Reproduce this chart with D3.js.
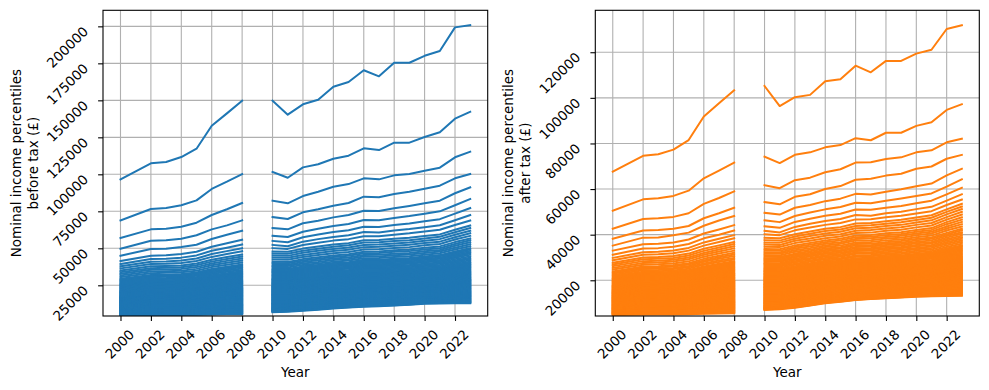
<!DOCTYPE html>
<html><head><meta charset="utf-8">
<script src="https://cdn.jsdelivr.net/npm/d3@7"></script>
<style>
body{margin:0;background:#fff}
svg{display:block}
text{font-family:"DejaVu Sans",sans-serif;fill:#000}
</style>
</head><body>
<svg id="chart" width="989" height="390"></svg>
<script>
// Tax years (labelled by year); 2009 has no data (gap in the lines)
const years = [2000,2002,2003,2004,2005,2006,2007,2008,2009,2010,2011,2012,2013,2014,2015,2016,2017,2018,2019,2020,2021,2022,2023];
const xTicks = [2000,2002,2004,2006,2008,2010,2012,2014,2016,2018,2020,2022];
const beforeTaxTicks = [25000,50000,75000,100000,125000,150000,175000,200000];
const afterTaxTicks = [20000,40000,60000,80000,100000,120000];
const percentiles = d3.range(1, 100);

// Percentile points 1..99 (thousands of £), one row per year; null = no data
const beforeTax = [
[4.73,4.9,5.1,5.3,5.5,5.7,5.8,6.0,6.2,6.4,6.6,6.8,7.0,7.2,7.4,7.6,7.8,8.1,8.3,8.5,8.7,8.9,9.1,9.3,9.5,9.7,10.0,10.2,10.4,10.7,10.9,11.2,11.4,11.6,11.9,12.1,12.3,12.6,12.8,13.0,13.3,13.5,13.7,14.0,14.2,14.4,14.7,14.9,15.2,15.4,15.7,15.9,16.2,16.4,16.7,17.0,17.2,17.5,17.7,18.0,18.3,18.7,19.0,19.3,19.7,20.0,20.3,20.6,21.0,21.3,21.8,22.3,22.7,23.2,23.7,24.2,24.7,25.1,25.6,26.1,26.8,27.5,28.1,28.8,29.5,30.6,31.7,32.8,33.9,35.0,36.4,37.8,39.4,41.4,45.0,49.7,57.0,68.9,96.6],
[4.9,5.1,5.3,5.5,5.7,5.9,6.2,6.4,6.6,6.8,7.0,7.3,7.5,7.7,7.9,8.2,8.4,8.6,8.8,9.1,9.3,9.5,9.8,10.0,10.2,10.5,10.7,11.0,11.2,11.5,11.8,12.0,12.3,12.5,12.8,13.1,13.3,13.6,13.8,14.1,14.4,14.6,14.9,15.1,15.4,15.7,15.9,16.2,16.4,16.7,17.0,17.3,17.5,17.8,18.1,18.4,18.7,18.9,19.2,19.5,19.9,20.2,20.6,20.9,21.3,21.7,22.0,22.4,22.7,23.1,23.6,24.1,24.7,25.2,25.7,26.2,26.7,27.3,27.8,28.3,29.0,29.8,30.5,31.3,32.0,33.2,34.3,35.5,36.6,37.8,39.4,40.9,42.8,45.0,49.5,55.1,62.8,76.6,107.4],
[5.0,5.2,5.4,5.6,5.8,6.1,6.3,6.5,6.7,6.9,7.1,7.4,7.6,7.8,8.0,8.3,8.5,8.7,8.9,9.2,9.4,9.6,9.9,10.1,10.3,10.6,10.8,11.1,11.3,11.6,11.9,12.1,12.4,12.6,12.9,13.2,13.4,13.7,13.9,14.2,14.5,14.7,15.0,15.2,15.5,15.8,16.0,16.3,16.5,16.8,17.1,17.4,17.6,17.9,18.2,18.5,18.8,19.0,19.3,19.6,20.0,20.3,20.7,21.1,21.5,21.8,22.2,22.6,22.9,23.3,23.8,24.3,24.8,25.3,25.9,26.4,26.9,27.4,27.9,28.4,29.2,29.9,30.7,31.4,32.2,33.4,34.5,35.7,36.8,38.0,39.6,41.1,43.0,45.3,49.7,55.4,63.2,77.2,108.3],
[5.0,5.2,5.4,5.6,5.8,6.1,6.3,6.5,6.7,6.9,7.1,7.4,7.6,7.8,8.1,8.3,8.5,8.8,9.0,9.2,9.5,9.7,9.9,10.2,10.4,10.7,10.9,11.2,11.5,11.7,12.0,12.2,12.5,12.8,13.0,13.3,13.6,13.8,14.1,14.4,14.6,14.9,15.2,15.4,15.7,15.9,16.2,16.5,16.7,17.0,17.3,17.6,17.9,18.2,18.5,18.7,19.0,19.3,19.6,19.9,20.3,20.6,21.0,21.3,21.7,22.1,22.4,22.8,23.1,23.5,24.0,24.6,25.1,25.6,26.2,26.7,27.2,27.7,28.3,28.8,29.6,30.3,31.1,31.8,32.6,33.8,34.9,36.1,37.2,38.4,40.1,41.8,43.7,46.1,50.9,56.5,64.6,79.1,111.7],
[5.1,5.3,5.5,5.8,6.0,6.2,6.4,6.7,6.9,7.1,7.3,7.6,7.8,8.1,8.3,8.5,8.8,9.0,9.3,9.5,9.7,10.0,10.2,10.5,10.7,11.0,11.3,11.5,11.8,12.1,12.4,12.6,12.9,13.2,13.5,13.7,14.0,14.3,14.6,14.8,15.1,15.4,15.7,15.9,16.2,16.5,16.8,17.0,17.3,17.6,17.9,18.2,18.5,18.8,19.1,19.4,19.7,20.0,20.3,20.6,21.0,21.4,21.7,22.1,22.5,22.9,23.3,23.6,24.0,24.4,24.9,25.5,26.0,26.6,27.1,27.6,28.2,28.7,29.3,29.8,30.6,31.4,32.1,32.9,33.7,34.9,36.1,37.3,38.5,39.7,41.4,43.1,45.2,47.7,52.4,58.8,67.3,82.4,117.3],
[5.3,5.5,5.8,6.0,6.3,6.5,6.8,7.0,7.3,7.5,7.8,8.0,8.3,8.5,8.8,9.1,9.3,9.6,9.8,10.1,10.4,10.6,10.9,11.1,11.4,11.7,12.0,12.3,12.6,12.9,13.2,13.5,13.8,14.1,14.4,14.7,15.0,15.2,15.5,15.8,16.1,16.4,16.7,17.0,17.3,17.6,17.9,18.2,18.5,18.8,19.1,19.4,19.8,20.1,20.4,20.7,21.0,21.4,21.7,22.0,22.4,22.8,23.2,23.6,24.0,24.4,24.8,25.2,25.6,26.0,26.6,27.2,27.7,28.3,28.9,29.5,30.1,30.6,31.2,31.8,32.6,33.5,34.3,35.2,36.0,37.3,38.5,39.8,41.0,42.3,44.2,46.1,48.3,51.1,56.3,62.8,72.5,90.1,132.8],
[5.4,5.7,5.9,6.2,6.4,6.7,6.9,7.2,7.4,7.7,8.0,8.2,8.5,8.8,9.1,9.3,9.6,9.9,10.2,10.4,10.7,11.0,11.3,11.5,11.8,12.1,12.4,12.7,13.0,13.4,13.7,14.0,14.3,14.6,14.9,15.2,15.5,15.9,16.2,16.5,16.8,17.1,17.4,17.7,18.0,18.4,18.7,19.0,19.3,19.6,19.9,20.3,20.6,20.9,21.3,21.6,21.9,22.2,22.6,22.9,23.3,23.7,24.2,24.6,25.0,25.4,25.8,26.3,26.7,27.1,27.7,28.3,28.9,29.5,30.2,30.8,31.4,32.0,32.6,33.2,34.1,35.0,35.8,36.7,37.6,38.9,40.2,41.5,42.8,44.1,46.1,48.1,50.4,53.4,59.2,65.5,76.4,95.0,141.2],
[5.5,5.8,6.0,6.3,6.6,6.8,7.1,7.4,7.6,7.9,8.2,8.5,8.8,9.0,9.3,9.6,9.9,10.2,10.5,10.8,11.1,11.3,11.6,11.9,12.2,12.5,12.9,13.2,13.5,13.8,14.2,14.5,14.8,15.2,15.5,15.8,16.1,16.5,16.8,17.1,17.5,17.8,18.1,18.4,18.8,19.1,19.4,19.7,20.1,20.4,20.7,21.1,21.4,21.8,22.1,22.4,22.8,23.1,23.5,23.8,24.3,24.7,25.2,25.6,26.1,26.5,27.0,27.4,27.9,28.3,28.9,29.5,30.2,30.8,31.4,32.0,32.6,33.3,33.9,34.5,35.4,36.3,37.3,38.2,39.1,40.4,41.8,43.1,44.5,45.8,48.0,50.1,52.6,55.8,61.9,68.9,80.6,100.2,149.7],
null,
[6.8,7.1,7.3,7.6,7.8,8.1,8.3,8.6,8.8,9.1,9.4,9.7,9.9,10.2,10.5,10.8,11.1,11.4,11.7,12.0,12.3,12.5,12.8,13.1,13.4,13.7,14.0,14.4,14.7,15.0,15.3,15.6,16.0,16.3,16.6,16.9,17.2,17.6,17.9,18.2,18.5,18.8,19.2,19.5,19.8,20.1,20.4,20.8,21.1,21.4,21.8,22.1,22.5,22.8,23.2,23.6,23.9,24.3,24.6,25.0,25.5,25.9,26.4,26.8,27.3,27.8,28.2,28.7,29.1,29.6,30.3,30.9,31.6,32.2,32.9,33.6,34.2,34.9,35.5,36.2,37.2,38.1,39.1,40.0,41.0,42.4,43.8,45.1,46.5,47.9,50.1,52.3,55.0,58.5,63.7,71.1,82.2,101.6,149.7],
[7.1,7.4,7.6,7.9,8.1,8.4,8.6,8.9,9.1,9.4,9.7,9.9,10.2,10.5,10.8,11.0,11.3,11.6,11.9,12.1,12.4,12.7,13.0,13.2,13.5,13.8,14.1,14.4,14.7,15.1,15.4,15.7,16.0,16.3,16.6,16.9,17.2,17.6,17.9,18.2,18.5,18.8,19.1,19.4,19.7,20.1,20.4,20.7,21.0,21.3,21.7,22.0,22.4,22.7,23.1,23.5,23.8,24.2,24.5,24.9,25.4,25.8,26.3,26.7,27.2,27.7,28.1,28.6,29.0,29.5,30.2,30.8,31.5,32.1,32.8,33.5,34.1,34.8,35.4,36.1,37.0,38.0,38.9,39.9,40.8,42.2,43.6,44.9,46.3,47.7,49.6,51.4,54.1,57.6,62.8,69.8,80.4,97.7,140.3],
[7.8,8.1,8.3,8.6,8.8,9.1,9.3,9.6,9.8,10.1,10.4,10.7,10.9,11.2,11.5,11.8,12.1,12.3,12.6,12.9,13.2,13.5,13.7,14.0,14.3,14.6,14.9,15.3,15.6,15.9,16.2,16.5,16.9,17.2,17.5,17.8,18.1,18.5,18.8,19.1,19.4,19.7,20.1,20.4,20.7,21.0,21.3,21.7,22.0,22.3,22.7,23.1,23.4,23.8,24.2,24.6,25.0,25.3,25.7,26.1,26.6,27.1,27.5,28.0,28.5,29.0,29.5,29.9,30.4,30.9,31.6,32.3,33.0,33.7,34.4,35.0,35.7,36.4,37.1,37.8,38.8,39.8,40.7,41.7,42.7,44.1,45.5,47.0,48.4,49.8,52.2,54.5,57.5,61.2,66.9,74.3,85.3,104.7,147.3],
[8.5,8.8,9.0,9.3,9.5,9.8,10.0,10.3,10.5,10.8,11.1,11.4,11.6,11.9,12.2,12.5,12.8,13.0,13.3,13.6,13.9,14.2,14.4,14.7,15.0,15.3,15.6,15.9,16.3,16.6,16.9,17.2,17.5,17.8,18.2,18.5,18.8,19.1,19.4,19.7,20.1,20.4,20.7,21.0,21.3,21.6,22.0,22.3,22.6,22.9,23.3,23.7,24.1,24.5,24.9,25.2,25.6,26.0,26.4,26.8,27.3,27.8,28.3,28.8,29.3,29.7,30.2,30.7,31.2,31.7,32.4,33.1,33.8,34.5,35.3,36.0,36.7,37.4,38.1,38.8,39.8,40.8,41.9,42.9,43.9,45.4,46.8,48.3,49.7,51.2,53.7,56.2,59.3,63.2,68.6,76.4,88.2,106.8,150.4],
[9.4,9.7,9.9,10.2,10.4,10.7,10.9,11.2,11.4,11.7,12.0,12.2,12.5,12.8,13.1,13.3,13.6,13.9,14.2,14.4,14.7,15.0,15.3,15.5,15.8,16.1,16.4,16.7,17.0,17.4,17.7,18.0,18.3,18.6,18.9,19.2,19.5,19.9,20.2,20.5,20.8,21.1,21.4,21.7,22.0,22.4,22.7,23.0,23.3,23.6,24.0,24.4,24.8,25.2,25.6,26.0,26.4,26.8,27.2,27.6,28.1,28.6,29.1,29.6,30.2,30.7,31.2,31.7,32.2,32.7,33.4,34.2,34.9,35.6,36.4,37.1,37.8,38.5,39.3,40.0,41.0,42.1,43.1,44.2,45.2,46.7,48.2,49.6,51.1,52.6,55.2,57.7,61.0,65.1,70.9,78.8,91.6,110.5,159.2],
[10.0,10.2,10.5,10.7,11.0,11.2,11.5,11.7,12.0,12.2,12.5,12.7,13.0,13.3,13.6,13.8,14.1,14.4,14.7,14.9,15.2,15.5,15.8,16.0,16.3,16.6,16.9,17.2,17.5,17.8,18.1,18.5,18.8,19.1,19.4,19.7,20.0,20.3,20.6,20.9,21.2,21.5,21.8,22.2,22.5,22.8,23.1,23.4,23.7,24.0,24.4,24.8,25.2,25.6,26.1,26.5,26.9,27.3,27.7,28.1,28.6,29.1,29.6,30.1,30.7,31.2,31.7,32.2,32.7,33.2,33.9,34.7,35.4,36.2,36.9,37.6,38.4,39.1,39.9,40.6,41.7,42.8,43.8,44.9,46.0,47.5,49.0,50.5,52.0,53.5,56.2,58.8,62.2,66.4,72.5,80.6,93.4,112.6,162.4],
[10.5,10.8,11.0,11.3,11.5,11.8,12.0,12.3,12.5,12.8,13.1,13.4,13.6,13.9,14.2,14.5,14.8,15.0,15.3,15.6,15.9,16.2,16.4,16.7,17.0,17.3,17.6,17.9,18.3,18.6,18.9,19.2,19.5,19.8,20.2,20.5,20.8,21.1,21.4,21.7,22.1,22.4,22.7,23.0,23.3,23.6,24.0,24.3,24.6,24.9,25.3,25.7,26.2,26.6,27.0,27.4,27.8,28.3,28.7,29.1,29.6,30.2,30.7,31.3,31.8,32.3,32.9,33.4,34.0,34.5,35.3,36.0,36.8,37.6,38.4,39.1,39.9,40.7,41.4,42.2,43.3,44.4,45.5,46.6,47.7,49.2,50.8,52.3,53.9,55.4,58.2,61.0,64.6,69.1,75.4,84.9,97.3,117.6,170.3],
[10.9,11.2,11.4,11.7,11.9,12.2,12.4,12.7,12.9,13.2,13.5,13.7,14.0,14.3,14.5,14.8,15.1,15.3,15.6,15.9,16.1,16.4,16.7,16.9,17.2,17.5,17.8,18.1,18.4,18.8,19.1,19.4,19.7,20.0,20.3,20.6,20.9,21.3,21.6,21.9,22.2,22.5,22.8,23.1,23.4,23.8,24.1,24.4,24.7,25.0,25.4,25.8,26.3,26.7,27.1,27.5,27.9,28.4,28.8,29.2,29.7,30.3,30.8,31.4,31.9,32.4,33.0,33.5,34.1,34.6,35.4,36.1,36.9,37.7,38.5,39.2,40.0,40.8,41.5,42.3,43.4,44.5,45.7,46.8,47.9,49.4,51.0,52.5,54.1,55.6,58.2,60.7,64.4,68.9,75.2,84.5,96.6,116.4,166.2],
[11.3,11.6,11.8,12.1,12.3,12.6,12.8,13.1,13.3,13.6,13.9,14.1,14.4,14.7,14.9,15.2,15.5,15.7,16.0,16.3,16.5,16.8,17.1,17.3,17.6,17.9,18.2,18.5,18.8,19.2,19.5,19.8,20.1,20.4,20.7,21.0,21.3,21.7,22.0,22.3,22.6,22.9,23.2,23.5,23.8,24.2,24.5,24.8,25.1,25.4,25.8,26.3,26.7,27.1,27.6,28.0,28.4,28.8,29.3,29.7,30.3,30.8,31.4,31.9,32.5,33.0,33.6,34.1,34.7,35.2,36.0,36.8,37.5,38.3,39.1,39.9,40.7,41.4,42.2,43.0,44.1,45.3,46.4,47.6,48.7,50.2,51.8,53.3,54.9,56.4,59.2,62.0,65.7,70.5,77.0,86.7,99.3,121.4,175.4],
[11.8,12.0,12.3,12.5,12.8,13.0,13.3,13.5,13.8,14.0,14.3,14.5,14.8,15.1,15.4,15.6,15.9,16.2,16.5,16.7,17.0,17.3,17.6,17.8,18.1,18.4,18.7,19.0,19.3,19.6,19.9,20.2,20.5,20.8,21.1,21.4,21.7,22.1,22.4,22.7,23.0,23.3,23.6,23.9,24.2,24.5,24.8,25.1,25.4,25.7,26.1,26.6,27.0,27.4,27.9,28.3,28.7,29.1,29.6,30.0,30.6,31.1,31.7,32.2,32.8,33.4,33.9,34.5,35.0,35.6,36.4,37.2,38.0,38.8,39.6,40.3,41.1,41.9,42.7,43.5,44.6,45.8,46.9,48.1,49.2,50.8,52.4,53.9,55.5,57.1,60.1,63.0,66.8,71.8,78.6,88.2,100.2,121.4,175.4],
[12.6,12.8,13.1,13.3,13.6,13.8,14.1,14.3,14.6,14.8,15.1,15.3,15.6,15.9,16.1,16.4,16.7,16.9,17.2,17.5,17.7,18.0,18.3,18.5,18.8,19.1,19.4,19.7,20.0,20.3,20.6,20.9,21.2,21.5,21.8,22.1,22.4,22.7,23.0,23.3,23.6,23.9,24.2,24.5,24.8,25.1,25.4,25.7,26.0,26.3,26.7,27.2,27.6,28.1,28.5,28.9,29.4,29.8,30.3,30.7,31.3,31.8,32.4,33.0,33.6,34.1,34.7,35.3,35.8,36.4,37.2,38.0,38.8,39.6,40.5,41.3,42.1,42.9,43.7,44.5,45.7,46.9,48.0,49.2,50.4,52.0,53.6,55.1,56.7,58.3,61.3,64.3,68.3,73.4,80.4,90.3,102.4,125.2,180.1],
[12.7,13.0,13.2,13.5,13.7,14.0,14.2,14.5,14.7,15.0,15.3,15.5,15.8,16.1,16.3,16.6,16.9,17.1,17.4,17.7,17.9,18.2,18.5,18.7,19.0,19.3,19.6,19.9,20.2,20.6,20.9,21.2,21.5,21.8,22.1,22.4,22.7,23.1,23.4,23.7,24.0,24.3,24.6,24.9,25.2,25.6,25.9,26.2,26.5,26.8,27.3,27.7,28.2,28.6,29.1,29.5,30.0,30.4,30.9,31.3,31.9,32.5,33.0,33.6,34.2,34.8,35.4,35.9,36.5,37.1,37.9,38.8,39.6,40.4,41.3,42.1,42.9,43.7,44.6,45.4,46.6,47.8,48.9,50.1,51.3,52.9,54.5,56.2,57.8,59.4,62.5,65.6,69.7,75.0,82.2,92.3,104.5,128.4,183.3],
[12.8,13.1,13.4,13.6,13.9,14.2,14.5,14.7,15.0,15.3,15.6,15.9,16.2,16.5,16.8,17.1,17.4,17.7,18.0,18.3,18.6,18.9,19.2,19.5,19.8,20.1,20.5,20.8,21.2,21.5,21.8,22.2,22.5,22.9,23.2,23.5,23.9,24.2,24.6,24.9,25.2,25.6,25.9,26.3,26.6,26.9,27.3,27.6,28.0,28.3,28.8,29.3,29.7,30.2,30.7,31.2,31.7,32.1,32.6,33.1,33.7,34.3,34.9,35.5,36.2,36.8,37.4,38.0,38.6,39.2,40.1,40.9,41.8,42.7,43.6,44.4,45.3,46.2,47.0,47.9,49.2,50.4,51.7,52.9,54.2,55.9,57.5,59.2,60.8,62.5,65.8,69.0,73.4,79.1,87.2,97.3,111.5,137.6,199.3],
[12.8,13.1,13.4,13.7,14.0,14.3,14.6,14.9,15.2,15.5,15.8,16.2,16.5,16.8,17.1,17.5,17.8,18.1,18.4,18.8,19.1,19.4,19.7,20.1,20.4,20.8,21.1,21.5,21.9,22.2,22.6,23.0,23.3,23.7,24.1,24.4,24.8,25.2,25.6,25.9,26.3,26.7,27.0,27.4,27.8,28.1,28.5,28.9,29.2,29.6,30.1,30.6,31.1,31.6,32.1,32.6,33.1,33.6,34.1,34.6,35.2,35.9,36.5,37.2,37.8,38.4,39.1,39.7,40.4,41.0,41.9,42.8,43.7,44.6,45.6,46.5,47.4,48.3,49.2,50.1,51.4,52.7,54.1,55.4,56.7,58.4,60.2,61.9,63.7,65.4,68.8,72.5,77.2,83.3,91.2,100.2,115.3,142.3,200.8]
];

const afterTax = [
[4.82,5.0,5.1,5.3,5.4,5.5,5.7,5.8,6.0,6.1,6.3,6.4,6.6,6.8,6.9,7.1,7.2,7.4,7.6,7.7,7.9,8.0,8.2,8.4,8.5,8.7,8.9,9.1,9.2,9.4,9.6,9.8,10.0,10.2,10.3,10.5,10.7,10.9,11.1,11.2,11.4,11.6,11.8,12.0,12.2,12.3,12.5,12.7,12.9,13.1,13.3,13.5,13.7,13.9,14.1,14.3,14.5,14.7,14.9,15.1,15.3,15.6,15.8,16.1,16.3,16.6,16.9,17.1,17.4,17.6,18.0,18.3,18.7,19.1,19.4,19.8,20.2,20.6,20.9,21.3,21.8,22.3,22.9,23.4,23.9,24.7,25.4,26.2,26.9,27.7,28.8,29.8,31.2,33.0,35.2,38.2,42.6,50.5,67.6],
[4.95,5.1,5.3,5.5,5.6,5.8,6.0,6.2,6.3,6.5,6.7,6.9,7.0,7.2,7.4,7.6,7.8,7.9,8.1,8.3,8.5,8.6,8.8,9.0,9.2,9.4,9.6,9.8,10.0,10.2,10.4,10.6,10.8,11.0,11.2,11.4,11.6,11.8,12.0,12.2,12.4,12.6,12.8,13.0,13.2,13.4,13.6,13.8,14.0,14.3,14.5,14.7,14.9,15.1,15.3,15.6,15.8,16.0,16.2,16.4,16.7,17.0,17.3,17.6,17.8,18.1,18.4,18.7,19.0,19.2,19.6,20.1,20.5,20.9,21.3,21.7,22.1,22.5,22.9,23.3,23.8,24.4,24.9,25.5,26.0,26.8,27.6,28.4,29.2,30.0,31.2,32.3,33.9,35.8,38.7,41.8,46.9,55.5,74.6],
[5.0,5.2,5.4,5.5,5.7,5.9,6.1,6.3,6.4,6.6,6.8,7.0,7.2,7.3,7.5,7.7,7.9,8.0,8.2,8.4,8.6,8.7,8.9,9.1,9.3,9.5,9.7,9.9,10.1,10.3,10.5,10.7,10.9,11.1,11.3,11.5,11.7,11.9,12.1,12.3,12.5,12.7,12.9,13.1,13.3,13.5,13.7,13.9,14.1,14.4,14.6,14.8,15.0,15.2,15.4,15.7,15.9,16.1,16.3,16.5,16.8,17.1,17.4,17.7,18.0,18.3,18.5,18.8,19.1,19.4,19.8,20.2,20.6,21.0,21.4,21.8,22.2,22.6,23.0,23.4,24.0,24.5,25.1,25.6,26.2,27.0,27.8,28.6,29.4,30.2,31.4,32.5,34.1,36.0,38.8,42.1,47.2,56.0,75.3],
[5.05,5.2,5.4,5.6,5.7,5.9,6.1,6.3,6.5,6.6,6.8,7.0,7.2,7.4,7.5,7.7,7.9,8.1,8.3,8.4,8.6,8.8,9.0,9.2,9.4,9.6,9.8,10.0,10.2,10.4,10.6,10.8,11.0,11.2,11.4,11.6,11.8,12.0,12.2,12.4,12.7,12.9,13.1,13.3,13.5,13.7,13.9,14.1,14.3,14.5,14.7,15.0,15.2,15.4,15.6,15.9,16.1,16.3,16.5,16.8,17.1,17.3,17.6,17.9,18.2,18.5,18.7,19.0,19.3,19.6,20.0,20.4,20.8,21.2,21.6,22.1,22.5,22.9,23.3,23.7,24.3,24.9,25.4,26.0,26.6,27.4,28.2,29.0,29.8,30.6,31.9,33.1,34.7,36.6,39.7,42.6,47.8,57.0,77.3],
[5.15,5.3,5.5,5.7,5.9,6.1,6.3,6.5,6.6,6.8,7.0,7.2,7.4,7.6,7.8,7.9,8.1,8.3,8.5,8.7,8.9,9.1,9.3,9.4,9.6,9.8,10.1,10.3,10.5,10.7,10.9,11.1,11.3,11.6,11.8,12.0,12.2,12.4,12.6,12.9,13.1,13.3,13.5,13.7,13.9,14.1,14.4,14.6,14.8,15.0,15.2,15.5,15.7,15.9,16.2,16.4,16.6,16.9,17.1,17.4,17.6,17.9,18.2,18.5,18.8,19.1,19.4,19.7,20.0,20.3,20.7,21.2,21.6,22.0,22.4,22.9,23.3,23.7,24.1,24.5,25.1,25.7,26.3,26.9,27.5,28.3,29.2,30.0,30.9,31.7,33.0,34.2,35.9,37.9,40.9,43.8,49.4,59.3,81.5],
[5.3,5.5,5.7,5.9,6.1,6.3,6.6,6.8,7.0,7.2,7.4,7.6,7.8,8.0,8.2,8.4,8.6,8.8,9.0,9.2,9.4,9.6,9.8,10.0,10.2,10.5,10.7,10.9,11.2,11.4,11.6,11.8,12.1,12.3,12.5,12.8,13.0,13.2,13.4,13.7,13.9,14.1,14.4,14.6,14.8,15.1,15.3,15.5,15.8,16.0,16.2,16.5,16.7,17.0,17.2,17.5,17.7,18.0,18.2,18.5,18.8,19.1,19.4,19.7,20.1,20.4,20.7,21.0,21.3,21.6,22.1,22.5,23.0,23.4,23.9,24.3,24.8,25.2,25.7,26.1,26.8,27.4,28.1,28.7,29.4,30.3,31.2,32.0,32.9,33.8,35.2,36.6,38.4,40.5,43.9,47.2,53.5,64.7,91.8],
[5.4,5.6,5.8,6.1,6.3,6.5,6.7,6.9,7.2,7.4,7.6,7.8,8.0,8.2,8.4,8.6,8.9,9.1,9.3,9.5,9.7,9.9,10.1,10.4,10.6,10.8,11.1,11.3,11.5,11.8,12.0,12.3,12.5,12.8,13.0,13.3,13.5,13.7,14.0,14.2,14.5,14.7,15.0,15.2,15.5,15.7,15.9,16.2,16.4,16.7,16.9,17.2,17.4,17.7,17.9,18.2,18.5,18.7,19.0,19.2,19.6,19.9,20.2,20.5,20.9,21.2,21.5,21.8,22.2,22.5,23.0,23.5,23.9,24.4,24.9,25.4,25.8,26.3,26.8,27.3,28.0,28.7,29.4,30.1,30.8,31.7,32.6,33.5,34.4,35.3,36.8,38.2,40.0,42.3,46.2,49.4,56.1,68.1,97.6],
[5.55,5.8,6.0,6.2,6.4,6.7,6.9,7.1,7.3,7.6,7.8,8.0,8.2,8.5,8.7,8.9,9.1,9.4,9.6,9.8,10.0,10.3,10.5,10.7,10.9,11.2,11.4,11.7,11.9,12.2,12.5,12.7,13.0,13.2,13.5,13.7,14.0,14.3,14.5,14.8,15.0,15.3,15.5,15.8,16.1,16.3,16.6,16.8,17.1,17.3,17.6,17.9,18.1,18.4,18.6,18.9,19.2,19.4,19.7,20.0,20.3,20.7,21.0,21.4,21.7,22.1,22.4,22.8,23.1,23.5,24.0,24.4,24.9,25.4,25.9,26.4,26.9,27.4,27.8,28.3,29.1,29.8,30.6,31.3,32.1,33.0,34.0,34.9,35.9,36.8,38.4,39.8,41.8,44.2,48.2,51.8,59.0,71.6,103.3],
null,
[6.97,7.2,7.3,7.5,7.7,7.9,8.0,8.2,8.4,8.6,8.8,9.0,9.3,9.5,9.7,10.0,10.2,10.4,10.6,10.9,11.1,11.3,11.6,11.8,12.0,12.3,12.5,12.8,13.0,13.3,13.6,13.8,14.1,14.3,14.6,14.8,15.1,15.4,15.6,15.9,16.1,16.4,16.6,16.9,17.1,17.4,17.7,17.9,18.2,18.4,18.7,19.0,19.3,19.6,19.9,20.1,20.4,20.7,21.0,21.3,21.7,22.0,22.4,22.8,23.1,23.5,23.9,24.2,24.6,25.0,25.5,26.0,26.6,27.1,27.6,28.2,28.7,29.2,29.7,30.3,31.0,31.6,32.3,33.0,33.7,34.7,35.7,36.6,37.6,38.6,40.2,41.7,43.7,46.3,49.6,54.3,61.7,74.2,105.2],
[7.28,7.5,7.6,7.8,8.0,8.1,8.3,8.5,8.7,8.8,9.0,9.3,9.5,9.7,9.9,10.1,10.3,10.6,10.8,11.0,11.2,11.4,11.7,11.9,12.1,12.4,12.6,12.9,13.1,13.4,13.6,13.9,14.1,14.4,14.6,14.9,15.1,15.4,15.6,15.9,16.1,16.4,16.6,16.9,17.1,17.4,17.6,17.8,18.1,18.3,18.6,18.9,19.2,19.5,19.8,20.1,20.4,20.6,20.9,21.2,21.6,22.0,22.3,22.7,23.1,23.4,23.8,24.2,24.5,24.9,25.4,26.0,26.5,27.0,27.5,28.1,28.6,29.1,29.7,30.2,30.9,31.6,32.2,32.9,33.6,34.6,35.5,36.5,37.4,38.4,39.8,41.0,43.0,45.5,48.8,53.3,60.4,71.4,96.4],
[7.98,8.2,8.3,8.5,8.7,8.9,9.0,9.2,9.4,9.6,9.8,10.0,10.3,10.5,10.7,10.9,11.2,11.4,11.6,11.8,12.0,12.3,12.5,12.7,12.9,13.2,13.5,13.7,14.0,14.2,14.5,14.7,15.0,15.2,15.5,15.8,16.0,16.3,16.5,16.8,17.0,17.3,17.5,17.8,18.1,18.3,18.6,18.8,19.1,19.3,19.6,19.9,20.2,20.6,20.9,21.2,21.5,21.8,22.1,22.4,22.8,23.1,23.5,23.9,24.3,24.7,25.1,25.5,25.8,26.2,26.8,27.3,27.9,28.4,29.0,29.5,30.1,30.6,31.2,31.7,32.5,33.2,33.9,34.6,35.3,36.3,37.3,38.2,39.2,40.2,41.9,43.4,45.6,48.2,51.8,56.6,63.9,75.0,100.3],
[8.9,9.1,9.2,9.4,9.5,9.7,9.8,10.0,10.1,10.3,10.5,10.7,11.0,11.2,11.4,11.6,11.8,12.1,12.3,12.5,12.7,13.0,13.2,13.4,13.6,13.9,14.1,14.4,14.6,14.9,15.1,15.4,15.6,15.9,16.2,16.4,16.7,16.9,17.2,17.4,17.7,17.9,18.2,18.4,18.7,18.9,19.2,19.4,19.7,19.9,20.3,20.6,20.9,21.2,21.5,21.8,22.1,22.4,22.7,23.1,23.5,23.8,24.2,24.6,25.0,25.4,25.8,26.2,26.6,27.0,27.5,28.1,28.7,29.3,29.8,30.4,31.0,31.5,32.1,32.7,33.4,34.1,34.8,35.6,36.3,37.3,38.3,39.4,40.4,41.4,43.1,44.8,47.0,49.7,53.0,57.7,65.0,76.1,101.3],
[9.91,10.1,10.2,10.4,10.5,10.7,10.8,11.0,11.1,11.3,11.5,11.7,11.9,12.1,12.3,12.6,12.8,13.0,13.2,13.4,13.7,13.9,14.1,14.3,14.5,14.8,15.0,15.3,15.5,15.8,16.0,16.3,16.5,16.8,17.0,17.3,17.5,17.8,18.0,18.3,18.5,18.8,19.0,19.3,19.5,19.8,20.0,20.3,20.5,20.8,21.1,21.4,21.7,22.1,22.4,22.7,23.0,23.3,23.7,24.0,24.4,24.8,25.2,25.6,26.0,26.4,26.8,27.2,27.7,28.1,28.6,29.2,29.8,30.4,31.0,31.6,32.1,32.7,33.3,33.9,34.6,35.3,36.0,36.7,37.4,38.4,39.5,40.5,41.6,42.6,44.3,46.0,48.3,51.1,54.7,60.0,67.4,78.3,107.3],
[10.6,10.7,10.9,11.0,11.1,11.2,11.4,11.5,11.6,11.8,12.0,12.2,12.4,12.6,12.9,13.1,13.3,13.5,13.7,14.0,14.2,14.4,14.6,14.8,15.0,15.3,15.5,15.8,16.0,16.3,16.5,16.8,17.0,17.3,17.5,17.7,18.0,18.2,18.5,18.7,19.0,19.2,19.5,19.7,19.9,20.2,20.4,20.7,20.9,21.2,21.5,21.9,22.2,22.5,22.8,23.2,23.5,23.8,24.2,24.5,24.9,25.3,25.7,26.1,26.5,26.9,27.3,27.7,28.2,28.6,29.2,29.7,30.3,30.9,31.5,32.1,32.7,33.3,33.9,34.5,35.2,36.0,36.7,37.5,38.2,39.2,40.2,41.3,42.3,43.3,45.1,46.9,49.2,52.1,55.8,61.3,68.7,79.3,108.2],
[11.36,11.5,11.6,11.7,11.8,11.9,12.0,12.1,12.2,12.4,12.6,12.8,13.0,13.3,13.5,13.7,13.9,14.2,14.4,14.6,14.8,15.0,15.3,15.5,15.7,16.0,16.2,16.5,16.7,17.0,17.2,17.5,17.7,18.0,18.2,18.5,18.8,19.0,19.3,19.5,19.8,20.0,20.3,20.5,20.8,21.0,21.3,21.5,21.8,22.0,22.4,22.7,23.0,23.4,23.7,24.1,24.4,24.7,25.1,25.4,25.8,26.3,26.7,27.1,27.6,28.0,28.4,28.9,29.3,29.7,30.3,30.9,31.6,32.2,32.8,33.4,34.0,34.6,35.3,35.9,36.6,37.4,38.1,38.9,39.6,40.7,41.7,42.8,43.8,44.9,46.7,48.6,51.0,54.0,57.9,64.1,71.6,82.3,114.1],
[11.75,11.9,12.0,12.1,12.2,12.3,12.4,12.5,12.6,12.8,13.0,13.2,13.4,13.6,13.8,14.0,14.3,14.5,14.7,14.9,15.1,15.3,15.5,15.7,16.0,16.2,16.5,16.7,17.0,17.2,17.5,17.7,18.0,18.2,18.5,18.7,19.0,19.2,19.5,19.7,20.0,20.2,20.5,20.7,21.0,21.2,21.5,21.7,22.0,22.2,22.5,22.9,23.2,23.5,23.9,24.2,24.6,24.9,25.2,25.6,26.0,26.4,26.9,27.3,27.7,28.2,28.6,29.0,29.4,29.9,30.5,31.1,31.7,32.3,33.0,33.6,34.2,34.8,35.4,36.0,36.8,37.6,38.4,39.1,39.9,40.9,42.0,43.0,44.1,45.1,46.8,48.3,50.9,53.8,57.6,64.5,71.8,81.4,111.2],
[12.1,12.2,12.3,12.5,12.6,12.7,12.8,12.9,13.1,13.2,13.4,13.6,13.8,14.0,14.2,14.5,14.7,14.9,15.1,15.3,15.5,15.7,15.9,16.2,16.4,16.6,16.9,17.1,17.4,17.6,17.9,18.1,18.4,18.6,18.9,19.1,19.4,19.6,19.9,20.1,20.4,20.6,20.9,21.1,21.4,21.6,21.9,22.1,22.4,22.6,23.0,23.3,23.7,24.0,24.3,24.7,25.0,25.4,25.7,26.1,26.5,26.9,27.4,27.8,28.3,28.7,29.1,29.6,30.0,30.5,31.1,31.7,32.3,33.0,33.6,34.2,34.8,35.5,36.1,36.7,37.5,38.3,39.0,39.8,40.6,41.7,42.7,43.8,44.8,45.9,47.6,49.4,51.8,54.9,58.8,65.9,73.2,84.7,116.2],
[12.45,12.6,12.7,12.8,12.9,13.1,13.2,13.3,13.4,13.6,13.8,14.0,14.2,14.4,14.7,14.9,15.1,15.3,15.5,15.8,16.0,16.2,16.4,16.6,16.9,17.1,17.3,17.6,17.8,18.1,18.3,18.6,18.8,19.0,19.3,19.5,19.8,20.0,20.3,20.5,20.8,21.0,21.2,21.5,21.7,22.0,22.2,22.5,22.7,22.9,23.3,23.6,24.0,24.3,24.6,25.0,25.3,25.7,26.0,26.4,26.8,27.3,27.7,28.2,28.6,29.1,29.5,30.0,30.4,30.9,31.5,32.1,32.8,33.4,34.0,34.6,35.3,35.9,36.5,37.2,37.9,38.7,39.5,40.3,41.1,42.2,43.3,44.3,45.4,46.5,48.3,50.1,52.6,55.9,59.9,66.7,73.9,84.7,116.2],
[12.8,13.0,13.1,13.3,13.5,13.7,13.8,14.0,14.2,14.3,14.6,14.8,15.0,15.2,15.4,15.6,15.8,16.0,16.3,16.5,16.7,16.9,17.1,17.3,17.5,17.8,18.0,18.3,18.5,18.7,19.0,19.2,19.5,19.7,19.9,20.2,20.4,20.7,20.9,21.1,21.4,21.6,21.9,22.1,22.3,22.6,22.8,23.1,23.3,23.5,23.9,24.2,24.6,24.9,25.3,25.7,26.0,26.4,26.7,27.1,27.5,28.0,28.4,28.9,29.3,29.8,30.3,30.7,31.2,31.6,32.3,32.9,33.6,34.2,34.9,35.5,36.2,36.8,37.5,38.1,38.9,39.7,40.5,41.3,42.1,43.2,44.3,45.3,46.4,47.5,49.3,51.2,53.8,57.0,61.2,68.9,76.1,87.7,119.4],
[12.95,13.1,13.3,13.5,13.6,13.8,14.0,14.2,14.3,14.5,14.7,14.9,15.1,15.4,15.6,15.8,16.0,16.2,16.4,16.6,16.8,17.1,17.3,17.5,17.7,18.0,18.2,18.5,18.7,19.0,19.2,19.5,19.7,20.0,20.2,20.5,20.7,21.0,21.2,21.5,21.7,22.0,22.2,22.5,22.7,23.0,23.2,23.4,23.7,23.9,24.3,24.7,25.0,25.4,25.7,26.1,26.5,26.8,27.2,27.5,28.0,28.5,28.9,29.4,29.9,30.3,30.8,31.3,31.7,32.2,32.8,33.5,34.2,34.8,35.5,36.2,36.8,37.5,38.2,38.8,39.6,40.5,41.3,42.1,42.9,44.0,45.1,46.3,47.4,48.5,50.3,52.2,54.9,58.1,62.4,69.9,77.0,89.3,121.1],
[13.1,13.3,13.5,13.6,13.8,14.0,14.2,14.4,14.6,14.8,15.0,15.2,15.5,15.7,16.0,16.2,16.4,16.7,16.9,17.2,17.4,17.6,17.9,18.1,18.4,18.6,18.9,19.2,19.4,19.7,20.0,20.3,20.5,20.8,21.1,21.4,21.6,21.9,22.2,22.4,22.7,23.0,23.3,23.5,23.8,24.1,24.3,24.6,24.9,25.2,25.5,25.9,26.3,26.7,27.1,27.5,27.9,28.2,28.6,29.0,29.5,30.0,30.5,31.0,31.4,31.9,32.4,32.9,33.4,33.9,34.6,35.3,36.0,36.7,37.4,38.0,38.7,39.4,40.1,40.8,41.8,42.7,43.6,44.6,45.5,46.6,47.7,48.9,50.0,51.1,53.0,54.9,57.7,61.1,66.0,73.3,80.5,94.7,130.2],
[13.25,13.4,13.6,13.8,14.0,14.2,14.4,14.5,14.7,14.9,15.2,15.4,15.7,15.9,16.2,16.5,16.7,17.0,17.3,17.5,17.8,18.0,18.3,18.6,18.8,19.1,19.4,19.7,20.0,20.3,20.6,20.9,21.2,21.5,21.8,22.1,22.4,22.7,23.0,23.2,23.5,23.8,24.1,24.4,24.7,25.0,25.3,25.6,25.9,26.2,26.6,27.0,27.4,27.8,28.2,28.6,29.0,29.4,29.8,30.2,30.7,31.2,31.7,32.2,32.8,33.3,33.8,34.3,34.8,35.3,36.0,36.8,37.5,38.2,38.9,39.6,40.4,41.1,41.9,42.6,43.6,44.6,45.6,46.6,47.6,48.8,50.0,51.2,52.3,53.5,55.4,57.7,60.6,64.3,68.9,75.0,82.1,97.2,131.8]
];

const K = 1000; // data are in thousands of pounds
const FS = 13.5; // font size (px)
const svg = d3.select('#chart');
const plotTop = 10.3, plotBottom = 316;

const panels = [
  {rows: beforeTax, ticks: beforeTaxTicks, color: '#1f77b4', label: ['Nominal income percentiles', 'before tax (£)'], left: 103, right: 487.7, labelX: 24.7, id: 'a'},
  {rows: afterTax, ticks: afterTaxTicks, color: '#ff7f0e', label: ['Nominal income percentiles', 'after tax (£)'], left: 595.3, right: 979.3, labelX: 516.7, id: 'b'}
];

panels.forEach(p => {
  const span = d3.max(years) - d3.min(years);
  const x = d3.scaleLinear()
    .domain([d3.min(years) - 0.05 * span, d3.max(years) + 0.05 * span])
    .range([p.left, p.right]);
  const all = p.rows.filter(r => r).flat().map(v => v * K);
  const y = d3.scaleLinear()
    .domain([d3.min(all) * 0.9, d3.max(all) * 1.05])
    .range([plotBottom, plotTop]);

  const g = svg.append('g');

  svg.append('clipPath').attr('id', 'clip-' + p.id)
    .append('rect').attr('x', p.left).attr('y', plotTop)
    .attr('width', p.right - p.left).attr('height', plotBottom - plotTop);

  // grid
  const grid = g.append('g').attr('stroke', '#b0b0b0').attr('stroke-width', 1.1);
  grid.selectAll('.gx').data(xTicks).join('line')
    .attr('x1', d => x(d)).attr('x2', d => x(d))
    .attr('y1', plotTop).attr('y2', plotBottom);
  grid.selectAll('.gy').data(p.ticks).join('line')
    .attr('x1', p.left).attr('x2', p.right)
    .attr('y1', d => y(d)).attr('y2', d => y(d));

  // percentile lines
  const line = d3.line()
    .defined(d => d.v != null)
    .x(d => x(d.year)).y(d => y(d.v));
  const series = percentiles.map((pc, j) =>
    years.map((yr, i) => ({year: yr, v: p.rows[i] ? p.rows[i][j] * K : null})));
  g.append('g').attr('clip-path', `url(#clip-${p.id})`)
    .selectAll('path').data(series).join('path')
    .attr('d', line)
    .attr('fill', 'none')
    .attr('stroke', p.color)
    .attr('stroke-width', 2)
    .attr('stroke-linejoin', 'round')
    .attr('stroke-linecap', 'square');

  // axes
  const xAxis = g.append('g').attr('transform', `translate(0,${plotBottom})`)
    .call(d3.axisBottom(x).tickValues(xTicks).tickFormat(d3.format('d')).tickSize(4.9).tickSizeOuter(0));
  xAxis.select('.domain').remove();
  xAxis.selectAll('line').attr('stroke', '#000').attr('stroke-width', 1.1);
  xAxis.selectAll('text')
    .attr('x', null).attr('y', null).attr('dy', null)
    .attr('font-size', FS).attr('font-family', '"DejaVu Sans", sans-serif')
    .attr('fill', '#000')
    .attr('text-anchor', 'middle')
    .attr('dominant-baseline', 'central')
    .attr('transform', 'translate(-1.5,28) rotate(-45)');

  const yAxis = g.append('g').attr('transform', `translate(${p.left},0)`)
    .call(d3.axisLeft(y).tickValues(p.ticks).tickFormat(d3.format('d')).tickSize(4.9).tickSizeOuter(0));
  yAxis.select('.domain').remove();
  yAxis.selectAll('line').attr('stroke', '#000').attr('stroke-width', 1.1);
  yAxis.selectAll('text')
    .attr('x', null).attr('y', null).attr('dy', null)
    .attr('font-size', FS).attr('font-family', '"DejaVu Sans", sans-serif')
    .attr('fill', '#000')
    .attr('text-anchor', 'end')
    .attr('dominant-baseline', 'central')
    .attr('transform', 'translate(-17.5,2) rotate(-45)');

  // frame
  g.append('rect')
    .attr('x', p.left).attr('y', plotTop)
    .attr('width', p.right - p.left).attr('height', plotBottom - plotTop)
    .attr('fill', 'none').attr('stroke', '#000').attr('stroke-width', 1.1);

  // axis titles
  g.append('text')
    .attr('x', (p.left + p.right) / 2).attr('y', 372)
    .attr('text-anchor', 'middle').attr('dominant-baseline', 'central')
    .attr('font-size', FS).text('Year');
  const cy = (plotTop + plotBottom) / 2;
  p.label.forEach((t, i) => {
    g.append('text')
      .attr('transform', `translate(${p.labelX + (i - 0.5) * 17},${cy}) rotate(-90)`)
      .attr('text-anchor', 'middle').attr('dominant-baseline', 'central')
      .attr('font-size', FS).text(t);
  });
});
</script>
</body></html>
